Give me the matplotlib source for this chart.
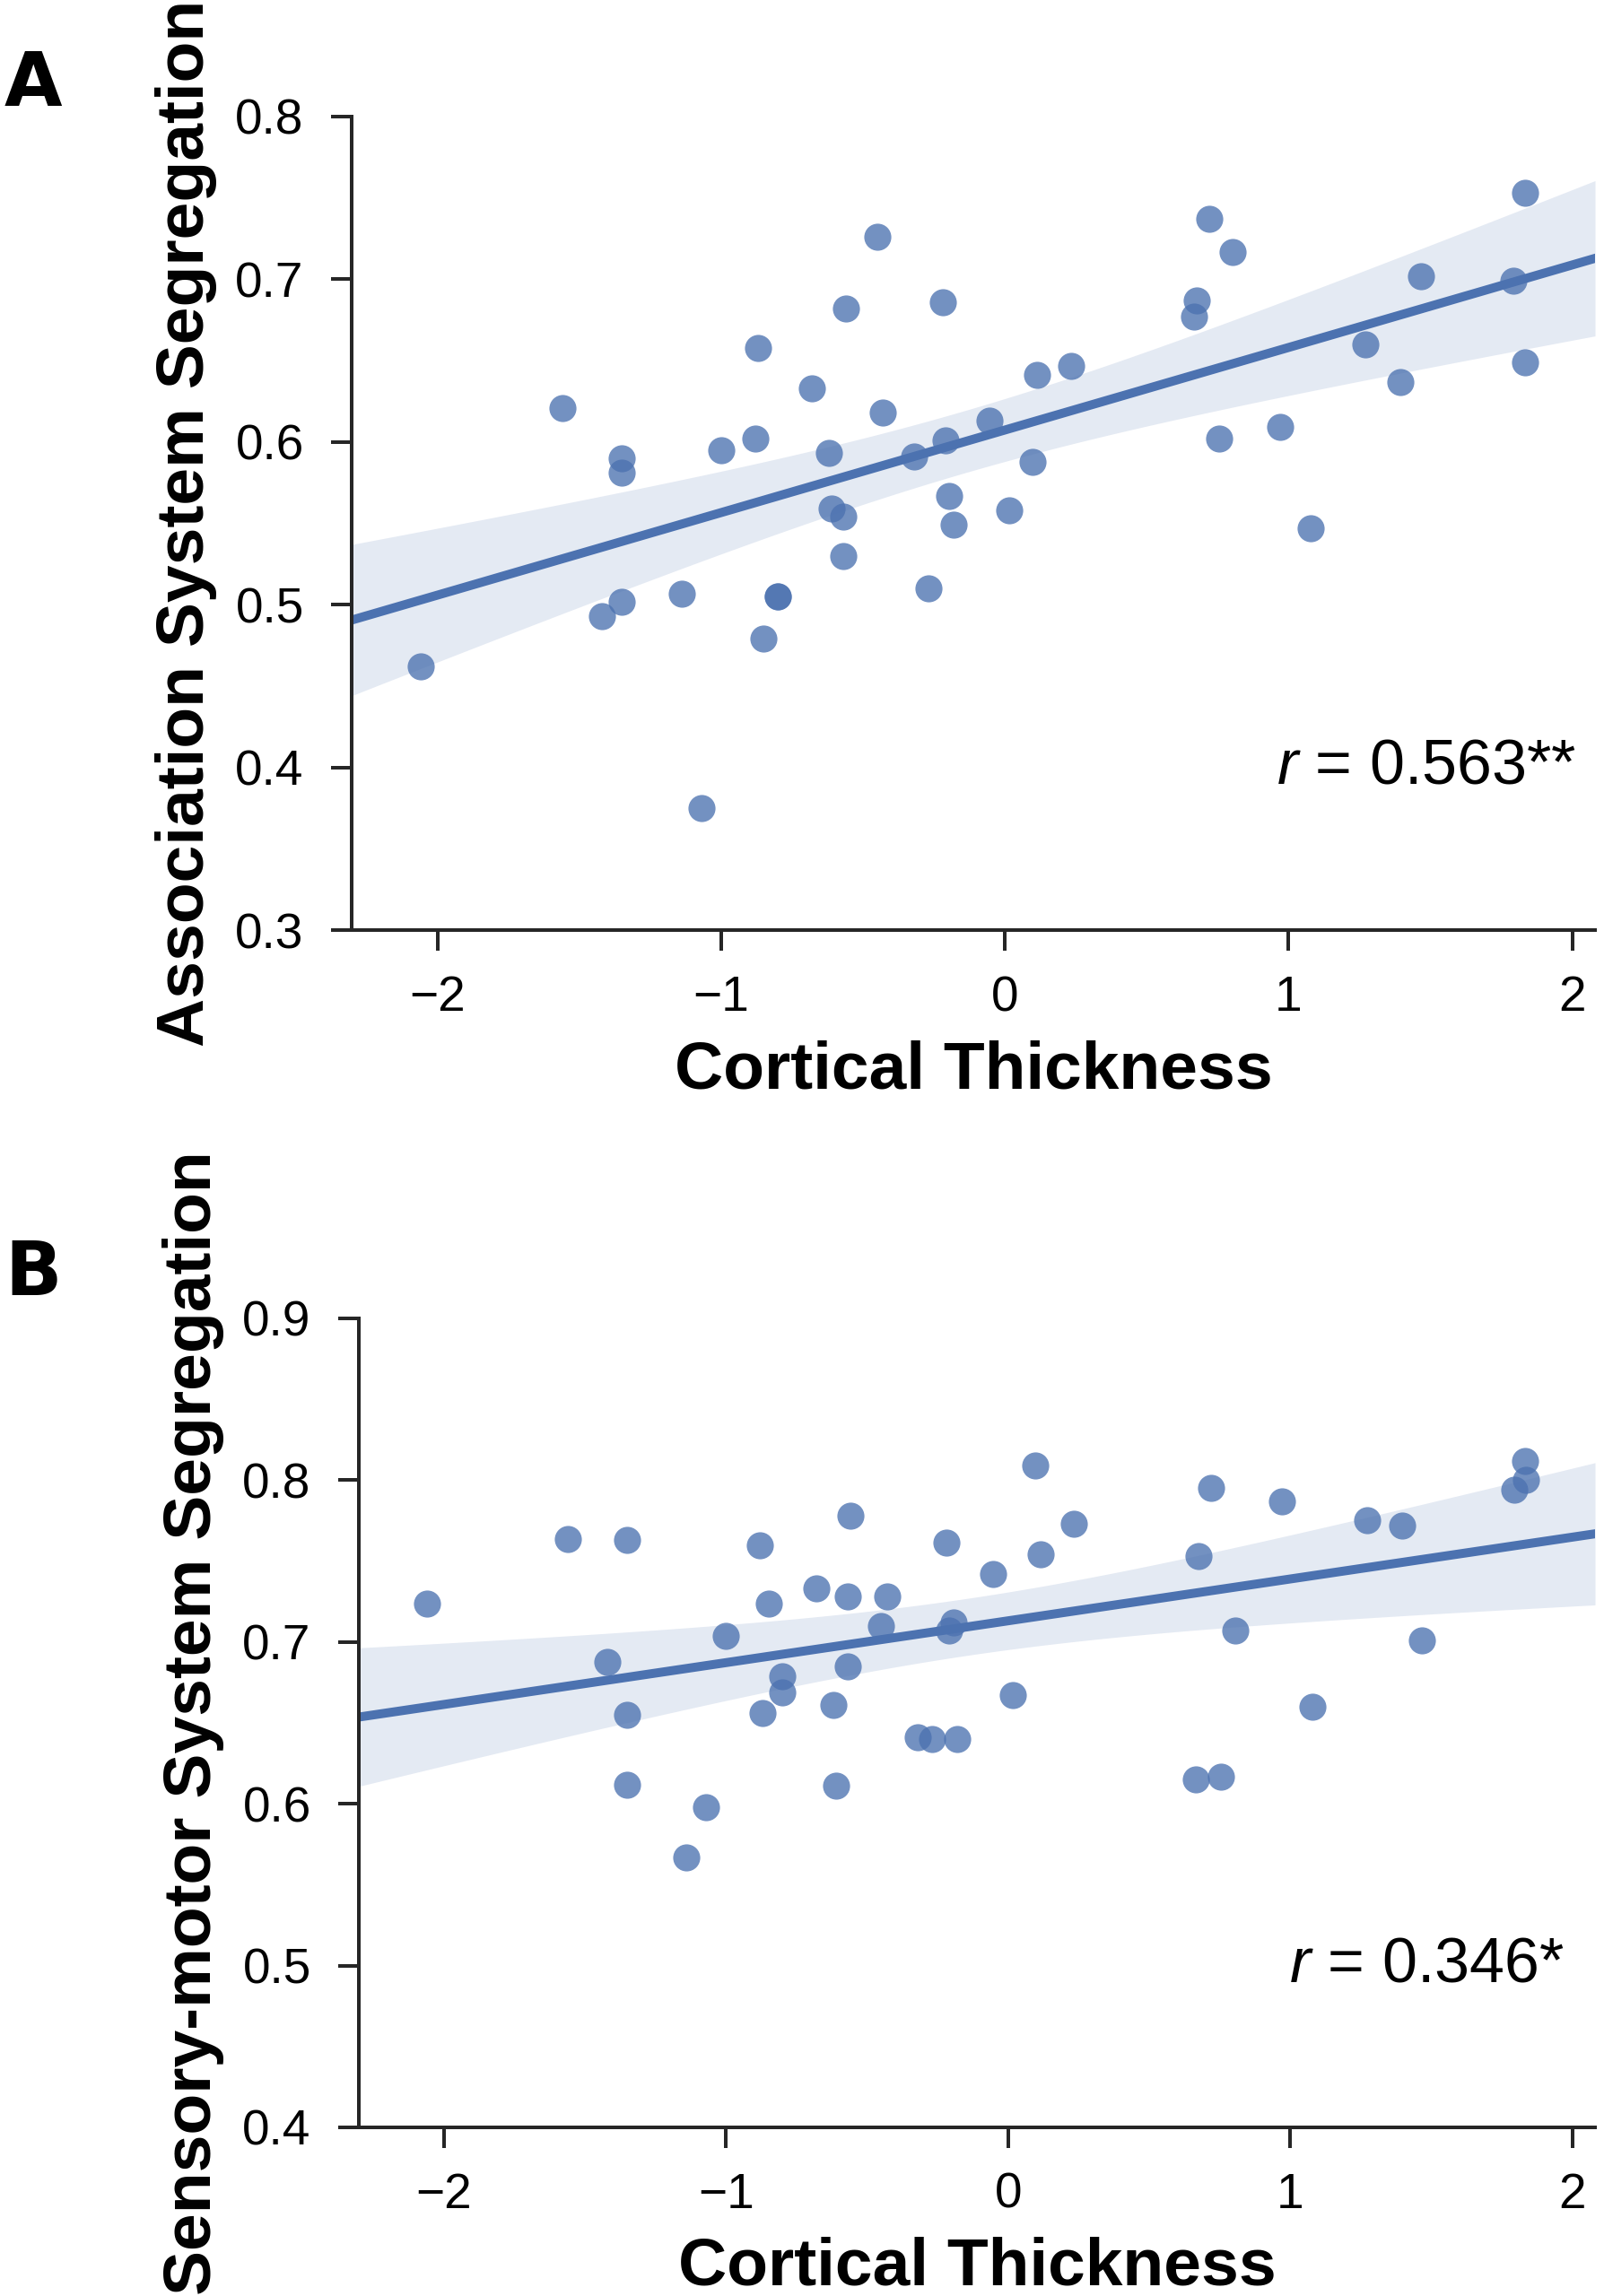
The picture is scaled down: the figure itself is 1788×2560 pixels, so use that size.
import numpy as np
import matplotlib
matplotlib.use('Agg')
from matplotlib import pyplot as plt

# cortical thickness (z-scored), one value per subject
thickness = [-2.06, -1.56, -1.42, -1.35, -1.35, -1.35, -1.14, -1.07, -1.00,
             -0.88, -0.87, -0.85, -0.80, -0.80, -0.68, -0.62, -0.61, -0.57,
             -0.57, -0.56, -0.45, -0.43, -0.32, -0.27, -0.22, -0.21, -0.195,
             -0.18, -0.055, 0.017, 0.097, 0.114, 0.234, 0.666, 0.675, 0.72,
             0.755, 0.804, 0.97, 1.079, 1.271, 1.395, 1.467, 1.793, 1.833,
             1.834]
assoc = [0.462, 0.621, 0.493, 0.590, 0.581, 0.502, 0.507, 0.375, 0.595,
         0.602, 0.658, 0.479, 0.505, 0.505, 0.633, 0.593, 0.559, 0.554,
         0.530, 0.682, 0.726, 0.618, 0.591, 0.510, 0.686, 0.601, 0.567,
         0.549, 0.613, 0.558, 0.588, 0.641, 0.647, 0.677, 0.687, 0.737,
         0.602, 0.717, 0.609, 0.547, 0.660, 0.637, 0.702, 0.699, 0.753,
         0.649]
sensory = [0.7235, 0.7635, 0.6875, 0.763, 0.655, 0.612, 0.567, 0.598, 0.704,
           0.7595, 0.656, 0.724, 0.679, 0.669, 0.733, 0.661, 0.611, 0.728,
           0.685, 0.778, 0.710, 0.728, 0.641, 0.640, 0.7615, 0.707, 0.712,
           0.640, 0.742, 0.667, 0.809, 0.754, 0.773, 0.615, 0.753, 0.795,
           0.617, 0.707, 0.787, 0.660, 0.775, 0.772, 0.701, 0.794, 0.812,
           0.800]
r_labels = ['0.563**', '0.346*']
y_labels = ['Association System Segregation', 'Sensory-motor System Segregation']
y_ticks = [[0.3, 0.4, 0.5, 0.6, 0.7, 0.8], [0.4, 0.5, 0.6, 0.7, 0.8, 0.9]]
x_ticks = [-2, -1, 0, 1, 2]

plt.rcParams['mathtext.fontset'] = 'custom'
plt.rcParams['mathtext.it'] = 'Liberation Sans:italic'
plt.rcParams['mathtext.rm'] = 'Liberation Sans'

color = '#4C72B0'
dark = '#262626'
W, H = 1788, 2560
fig = plt.figure(figsize=(W / 240, H / 240), dpi=240)

# axes boxes in pixels: left, right, top, bottom
boxes = [(392, 1778, 130, 1037), (400, 1778, 1470, 2372)]
letters = [('A', 1 - 95 / H), ('B', 1 - 1420 / H)]
r_pos = [0.985, 0.975]


def fit_ci(x, y, grid):
    x = np.asarray(x)
    y = np.asarray(y)
    n = len(x)
    k, m = np.polyfit(x, y, 1)
    res = y - (k * x + m)
    s = np.sqrt(np.sum(res ** 2) / (n - 2))
    sxx = np.sum((x - x.mean()) ** 2)
    yhat = k * grid + m
    half = 2.015 * s * np.sqrt(1 / n + (grid - x.mean()) ** 2 / sxx)
    return yhat, yhat - half, yhat + half


for i, ys in enumerate([assoc, sensory]):
    l, r, t, b = boxes[i]
    ax = fig.add_axes([l / W, 1 - b / H, (r - l) / W, (b - t) / H])
    grid = np.linspace(-2.302, 2.08, 100)
    yhat, lo, hi = fit_ci(thickness, ys, grid)
    ax.fill_between(grid, lo, hi, color=color, alpha=0.15, lw=0)
    ax.plot(grid, yhat, color=color, lw=3)
    ax.scatter(thickness, ys, s=82, color=color, alpha=0.78, lw=0, zorder=3)
    ax.set_xlim(-2.302, 2.08)
    ax.set_ylim(y_ticks[i][0], y_ticks[i][-1])
    ax.set_xticks(x_ticks)
    ax.set_yticks(y_ticks[i])
    ax.set_xticklabels(['\u22122', '\u22121', '0', '1', '2'])
    ax.set_yticklabels([f'{v:.1f}' for v in y_ticks[i]])
    for side in ['top', 'right']:
        ax.spines[side].set_visible(False)
    for side in ['left', 'bottom']:
        ax.spines[side].set_linewidth(1.2)
        ax.spines[side].set_color(dark)
    ax.tick_params(axis='both', length=7, width=1.2, color=dark,
                   labelsize=16.5, labelcolor='black')
    ax.tick_params(axis='x', pad=8)
    ax.tick_params(axis='y', pad=9)
    for lab in ax.get_xticklabels() + ax.get_yticklabels():
        lab.set_family('Liberation Sans')
    ax.set_xlabel('Cortical Thickness', fontsize=22.5, fontweight='bold',
                  family='Liberation Sans', labelpad=6)
    ax.set_ylabel(y_labels[i], fontsize=22.5, fontweight='bold',
                  family='Liberation Sans', labelpad=6)
    ax.text(r_pos[i], 0.2, f'$r$ = {r_labels[i]}', transform=ax.transAxes,
            ha='right', va='center', fontsize=21, family='Liberation Sans')
    fig.text(5 / W, letters[i][1], letters[i][0], fontsize=25,
             fontweight='bold', family='DejaVu Sans', va='center')

fig.savefig('out.png', dpi=240)
